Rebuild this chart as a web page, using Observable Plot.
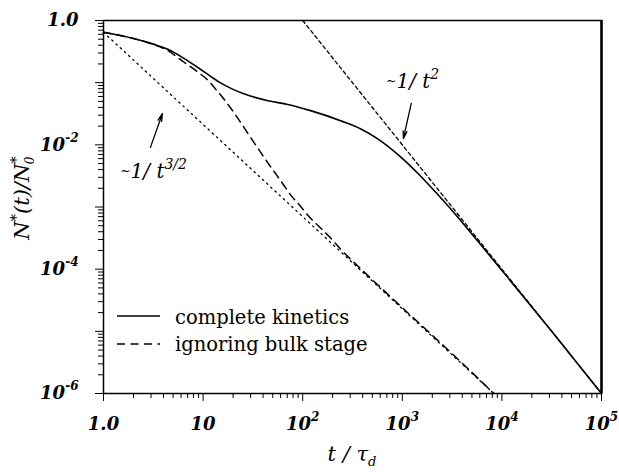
<!DOCTYPE html>
<html>
<head>
<meta charset="utf-8">
<script src="https://cdn.jsdelivr.net/npm/d3@7"></script>
<script src="https://cdn.jsdelivr.net/npm/@observablehq/plot@0.6"></script>
<style>
  body { margin: 0; background: #fff; }
  #chart svg { display: block; }
</style>
</head>
<body>
<div id="chart"></div>
<script>
// Survival fraction N*(t)/N0* versus reduced time t/τd (log–log).

// Complete kinetics (solid)
const completeT = [1, 2.0, 3.16, 4.37, 6.3, 9.3, 11.7, 14.8, 19.5, 25.7, 44.7, 70.8, 120, 240, 380, 562, 955, 1413, 2042, 3020, 4467, 6310, 1e4, 31623, 1e5];
const completeN = [0.646, 0.513, 0.417, 0.347, 0.251, 0.166, 0.129, 0.100, 0.0794, 0.0661, 0.0513, 0.0447, 0.0355, 0.0245, 0.0182, 0.0126, 6.46e-3, 3.55e-3, 1.91e-3, 9.55e-4, 4.57e-4, 2.34e-4, 9.55e-5, 1e-5, 1e-6];

// Kinetics ignoring the bulk stage (dashed)
const bulkT = [1, 2.0, 3.16, 4.47, 6.3, 8.7, 11.0, 13.8, 17.4, 21.4, 25.7, 31.6, 44.7, 63.1, 75.9, 95.5, 115, 145, 178, 251, 398, 1000, 3162, 8300];
const bulkN = [0.646, 0.513, 0.412, 0.324, 0.219, 0.151, 0.112, 0.0741, 0.0468, 0.0295, 0.0191, 0.0116, 5.13e-3, 2.37e-3, 1.55e-3, 1.02e-3, 7.08e-4, 4.90e-4, 3.55e-4, 1.95e-4, 9.55e-5, 2.40e-5, 4.37e-6, 1e-6];

// Asymptotes: ~1/t^{3/2} (dotted) and ~1/t^2 (short dashes)
const slow32T = [1, 8300];
const slow32N = [0.646, 1e-6];
const fast2T = [100, 1e5];
const fast2N = [1, 1e-6];

// Axis ticks and labels
const xMajor = [1, 10, 100, 1e3, 1e4, 1e5];
const xMajorLabels = ["1.0", "10", "10^2", "10^3", "10^4", "10^5"];
const yMajor = [1, 1e-1, 1e-2, 1e-3, 1e-4, 1e-5, 1e-6];
const yMajorLabels = ["1.0", "", "10^-2", "", "10^-4", "", "10^-6"];
const minorSteps = [2, 3, 4, 5, 6, 7, 8, 9];
const xMinor = xMajor.slice(0, -1).flatMap(d => minorSteps.map(k => k * d));
const yMinor = yMajor.slice(1).flatMap(d => minorSteps.map(k => k * d));

// Annotation arrows (tail → head)
const arrows = [
  {x1: 2.96, y1: 9.1e-3, x2: 3.9, y2: 0.0317},
  {x1: 1230, y1: 0.0465, x2: 1025, y2: 0.0126}
];

const xLabelOf = new Map(xMajor.map((d, i) => [d, xMajorLabels[i]]));
const yLabelOf = new Map(yMajor.map((d, i) => [d, yMajorLabels[i]]));

const serif = "DejaVu Serif";

const plot = Plot.plot({
  width: 619,
  height: 472,
  marginLeft: 103,
  marginRight: 18,
  marginTop: 20,
  marginBottom: 79,
  x: {type: "log", domain: [1, 1e5], label: null},
  y: {type: "log", domain: [1e-6, 1], label: null},
  style: {fontFamily: serif, background: "white", color: "black", overflow: "visible"},
  marks: [
    Plot.axisX(xMinor, {tickSize: 5, tickFormat: () => "", label: null}),
    Plot.axisX(xMajor, {tickSize: 8, tickPadding: 16, tickFormat: d => xLabelOf.get(d), label: null}),
    Plot.axisY(yMinor, {tickSize: 5, tickFormat: () => "", label: null}),
    Plot.axisY(yMajor, {tickSize: 8, tickPadding: 17, tickFormat: d => yLabelOf.get(d), label: null}),
    Plot.line(slow32T, {x: slow32T, y: slow32N, stroke: "black", strokeWidth: 1.3, strokeDasharray: "1.5,4.2"}),
    Plot.line(fast2T, {x: fast2T, y: fast2N, stroke: "black", strokeWidth: 1.3, strokeDasharray: "3.5,3"}),
    Plot.line(bulkT, {x: bulkT, y: bulkN, stroke: "black", strokeWidth: 1.5, strokeDasharray: "8,5.5", curve: "monotone-x"}),
    Plot.line(completeT, {x: completeT, y: completeN, stroke: "black", strokeWidth: 1.6, curve: "monotone-x"}),
    Plot.arrow(arrows, {x1: "x1", y1: "y1", x2: "x2", y2: "y2", stroke: "black", strokeWidth: 1.3, headLength: 9, headAngle: 28}),
    Plot.frame({stroke: "black", strokeWidth: 1.5}),
    Plot.ruleX([1e5], {stroke: "black", strokeWidth: 2.5})
  ]
});

document.getElementById("chart").append(plot);

const svg = d3.select(plot);

// Tick labels: italic serif with raised exponents
svg.selectAll('g[aria-label="x-axis tick label"] text, g[aria-label="y-axis tick label"] text')
  .each(function () {
    const t = d3.select(this);
    const s = t.text();
    t.attr("font-size", 18).attr("font-style", "italic").attr("font-weight", "bold").attr("font-family", serif);
    if (s.includes("^")) {
      const [base, exp] = s.split("^");
      t.text(base);
      t.append("tspan").attr("dy", -9).attr("font-size", 12).text(exp);
    }
  });

// Rich text helper: parts = [{text, size, dx, dy, style}]
function richText(x, y, parts, opts = {}) {
  const el = svg.append("text")
    .attr("x", x).attr("y", y)
    .attr("font-family", serif)
    .attr("font-size", opts.size || 19)
    .attr("font-style", opts.style || "italic")
    .attr("fill", "black")
    .attr("text-anchor", opts.anchor || "start");
  if (opts.transform) el.attr("transform", opts.transform);
  for (const p of parts) {
    const ts = el.append("tspan").text(p.text);
    if (p.size) ts.attr("font-size", p.size);
    if (p.dx != null) ts.attr("dx", p.dx);
    if (p.dy != null) ts.attr("dy", p.dy);
    if (p.style) ts.attr("font-style", p.style);
  }
  return el;
}

const sx = plot.scale("x"), sy = plot.scale("y");

// Power-law annotations
richText(sx.apply(1.5), sy.apply(2.9e-3), [
  {text: "~", size: 12, dy: -3},
  {text: "1/ t", size: 20, dy: 3},
  {text: "3/2", size: 14, dy: -9}
]);
richText(sx.apply(700), sy.apply(0.081), [
  {text: "~", size: 12, dy: -3},
  {text: "1/ t", size: 20, dy: 3},
  {text: "2", size: 14, dy: -9}
]);

// Axis titles
richText(352, 461, [
  {text: "t / τ"},
  {text: "d", size: 13, dy: 5}
], {anchor: "middle", size: 21});

richText(0, 0, [
  {text: "N"},
  {text: "*", size: 15, dy: -8},
  {text: "(t)/N", dy: 8},
  {text: "*", size: 15, dy: -8},
  {text: "0", size: 12, dx: -8, dy: 13}
], {anchor: "middle", size: 21, transform: "translate(29,198) rotate(-90)"});

// Legend
const legend = svg.append("g").attr("text-anchor", "start");
legend.append("line").attr("x1", 117).attr("x2", 160).attr("y1", 316).attr("y2", 316)
  .attr("stroke", "black").attr("stroke-width", 1.6);
legend.append("line").attr("x1", 117).attr("x2", 160).attr("y1", 344).attr("y2", 344)
  .attr("stroke", "black").attr("stroke-width", 1.5).attr("stroke-dasharray", "8,5.5");
legend.append("text").attr("x", 175).attr("y", 324).attr("font-family", serif).attr("font-size", 19.5)
  .attr("text-anchor", "start").text("complete kinetics");
legend.append("text").attr("x", 175).attr("y", 351).attr("font-family", serif).attr("font-size", 19.5)
  .attr("text-anchor", "start").text("ignoring bulk stage");
</script>
</body>
</html>
